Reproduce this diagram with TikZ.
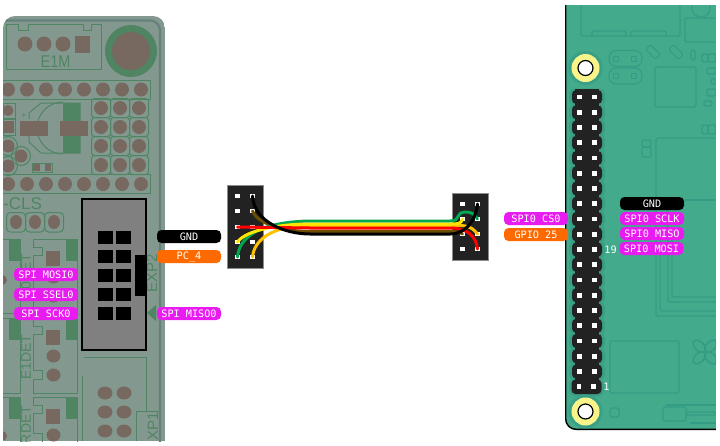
\documentclass[tikz,border=0pt]{standalone}
\usepackage{fontspec}
\newfontfamily\pinfont{DejaVu Sans Mono}
\newfontfamily\silkfont{Liberation Sans}
\usetikzlibrary{shapes.geometric}

\definecolor{ramps}{HTML}{83998F}
\definecolor{rampsedge}{HTML}{66807C}
\definecolor{silk}{HTML}{4F8562}
\definecolor{padbrown}{HTML}{77695F}
\definecolor{pithree}{HTML}{43AB8C}
\definecolor{pitrace}{HTML}{339C84}
\definecolor{pihalo}{HTML}{3A9F86}
\definecolor{ringyellow}{HTML}{F8F48A}
\definecolor{spipink}{HTML}{E81CF0}
\definecolor{gpioorange}{HTML}{FF6A00}
\definecolor{headerblack}{HTML}{222222}
\definecolor{wiregreen}{HTML}{00A651}
\definecolor{wireyellow}{HTML}{FFE600}
\definecolor{wireamber}{HTML}{FFC000}
\definecolor{wirebrown}{HTML}{6B4E00}

\tikzset{
    pinlabel/.style={rounded corners=4.5pt, minimum width=64pt, minimum height=13pt, inner sep=0pt,
        text=white, font=\pinfont\fontsize{10.2}{10}\selectfont},
    spi/.style={pinlabel, fill=spipink},
    gnd/.style={pinlabel, fill=black},
    gpio/.style={pinlabel, fill=gpioorange},
    silkline/.style={draw=silk, line width=1pt},
    silktext/.style={text=silk, font=\silkfont\fontsize{#1}{#1}\selectfont, inner sep=0pt},
    pad/.style={fill=padbrown},
    pcbline/.style={draw=pitrace, line width=1.1pt, rounded corners=1.5pt},
    wire/.style={line width=3pt, line cap=round},
    pinhole/.style={fill=white, minimum size=4.6pt, inner sep=0pt},
    cable/.style={fill=headerblack, draw=black!45, line width=0.8pt},
}

\begin{document}
\begin{tikzpicture}[x=1pt, y=-1pt]
    \useasboundingbox (0,0) rectangle (720,445);

    % left board
    \begin{scope}
        \clip[rounded corners=12pt] (3,16) -- (165,16) -- (165,470) -- (3,470) -- cycle;
        \clip (0,0) rectangle (170,441);
        \fill[ramps] (3,16) rectangle (165,441);
        \draw[rampsedge, line width=2.2pt, rounded corners=10pt] (3,20.5) -- (160,20.5) -- (160,460);

        % E1M
        \draw[silkline] (6,24.5) -- (18,24.5) -- (18,30) -- (28,30) -- (28,24.5)
            -- (83,24.5) -- (83,30) -- (91,30) -- (91,24.5) -- (101,24.5) -- (101,69) -- (6,69) -- cycle;
        \foreach \x in {25,44,63}
            \fill[pad] (\x,44) circle (7.5);
        \fill[pad] (75,36) rectangle (90,53);
        \node[silktext=17, xscale=0.85] (eonem) at (55.5,61.5) {E1M};
        \fill[silk] (131,51) circle (26);
        \fill[pad] (131,51) circle (19);

        % pad rows
        \foreach \y in {89.5,184} {
            \draw[silkline] (0,\y-9.5) rectangle (150,\y+9.5);
            \foreach \x in {8,27,46,65,84,103,122,141}
                \fill[pad] (\x,\y) circle (7);
        }
        \foreach \x in {101,120,139}
            \foreach \y in {108,127,146,165} {
                \draw[silkline, rounded corners=3pt] (\x-9.5,\y-9.5) rectangle (\x+9.5,\y+9.5);
                \fill[pad] (\x,\y) circle (7);
            }

        % battery holder
        \draw[silkline] (29,119) -- (29,113) -- (41,103) -- (80,103) -- (80,153) -- (41,153) -- (29,142) -- (29,136);
        \draw[silkline] (63,154) arc (90:270:26);
        \fill[silk] (63,103) rectangle (80,153);
        \fill[pad] (20,121) rectangle (48,136);
        \fill[pad] (60,121) rectangle (88,136);
        \node[silktext=9] (plus) at (24,115.5) {+};

        % small parts on the edge
        \draw[silkline] (3,103) rectangle (15,118);
        \draw[silkline] (3,119) rectangle (15,135);
        \fill[pad] (8,110.5) circle (5.5);
        \fill[pad] (3,121) rectangle (14,133);
        \foreach \x/\y in {8/146,8/166,21/156} {
            \draw[silkline] (\x,\y) circle (9.5);
            \fill[pad] (\x,\y) circle (6.5);
        }
        \draw[silkline] (32,163) rectangle (52,172);
        \fill[pad] (33,164) rectangle (40,171);
        \fill[pad] (45,164) rectangle (51,171);

        % CLS
        \node[silktext=17, anchor=west] (cls) at (3,204) {-CLS};
        \foreach \x in {16,35,54} {
            \draw[silkline, rounded corners=4pt] (\x-9.5,212.5) rectangle (\x+9.5,232);
            \fill[pad] (\x,222) ellipse (6 and 7);
        }

        % lower parts
        \foreach \y/\h in {239/75,318/76,397/60} {
            \draw[silkline] (3,\y) -- (20,\y) -- (20,\y+\h-1) -- (3,\y+\h-1);
            \draw[silkline] (77,\y) -- (77,\y+\h-1) -- (33,\y+\h-1) -- (33,\y+\h-15) -- (42,\y+\h-15) -- (42,\y+\h-24)
                -- (33,\y+\h-24) -- (33,\y+16) -- (42,\y+16) -- (42,\y+8) -- (33,\y+8) -- (33,\y) -- cycle;
            \fill[silk] (9,\y) rectangle (20,\y+22);
            \fill[silk] (66,\y) rectangle (77,\y+22);
            \fill[pad] (46,\y+12) rectangle (60,\y+27);
            \fill[pad] (53.5,\y+38) ellipse (7 and 6.5);
        }
        \fill[pad] (53.5,375) ellipse (7 and 6.5);
        \fill[pad] (53.5,296) ellipse (7 and 6.5);
        \fill[pad] (2,280) circle (5);
        \fill[pad] (2,436) circle (5);
        \node[silktext=14, rotate=90] (eonedet) at (26,357) {E1DET};
        \node[silktext=14, rotate=90] (eodet) at (26,276) {E0DET};
        \node[silktext=14, rotate=90] (rdet) at (26,425) {RDET};

        % XP1
        \draw[silkline] (84,357) -- (146,357) -- (146,411);
        \draw[silkline] (82,376) -- (82,441);
        \draw[silkline] (136,441) -- (136,411) -- (159,411);
        \foreach \x in {105,124}
            \foreach \y in {393,412,431}
                \fill[pad] (\x,\y) ellipse (7.5 and 6.5);
        \node[silktext=15, rotate=90] (xpone) at (153,426) {XP1};
        \node[silktext=15, rotate=90] (exptwo) at (152,273) {EXP2};
        \fill[silk] (147,313) -- (156,305) -- (156,321) -- cycle;

        % EXP2 socket
        \draw[fill=black!50, line width=2pt] (82,199) rectangle (146,350);
        \foreach \y in {231,250,269,288,307} {
            \fill (98,\y) rectangle (113,\y+13);
            \fill (116,\y) rectangle (131,\y+13);
        }
        \fill (135,255) rectangle (146,296);
    \end{scope}

    % right board
    \begin{scope}
        \clip (565,5) -- (565,419) arc (180:90:11) -- (716,430) -- (716,5) -- cycle;
        \fill[pithree] (565,5) rectangle (716,430);
        \draw[pcbline] (581,5) -- (581,36) -- (680,36) -- (680,5);
        \draw[pcbline] (592,36) -- (592,31) -- (626,31) -- (626,36);
        \draw[pcbline] (631,36) -- (631,31) -- (666,31) -- (666,36);
        \draw[pcbline] (716,18) -- (685,18) -- (685,42) -- (716,42);
        \draw[pitrace, line width=1.1pt] (701,8) circle (9);
        \foreach \y in {58.5,76}
            \draw[pitrace, line width=1.1pt, rounded corners=7pt] (609,\y-8) rectangle (642,\y+8);
        \foreach \x in {615.5,634}
            \foreach \y in {58.5,76}
                \draw[pitrace, line width=1pt] (\x-2.5,\y-2.5) rectangle (\x+2.5,\y+2.5);
        \foreach \x in {653,676}
            \draw[pcbline, rotate around={45:(\x,52)}] (\x-3.5,45) rectangle (\x+3.5,59);
        \draw[pcbline] (691,50) rectangle (695,60);
        \draw[pcbline] (702,54) rectangle (708,62);
        \draw[pcbline] (708,54) rectangle (716,62);
        \draw[pcbline] (707,68) rectangle (716,74);
        \draw[pcbline] (711,79) rectangle (716,84);
        \draw[pcbline] (707,89) rectangle (716,96);
        \draw[pcbline] (704,101) rectangle (712,106);
        \draw[pcbline] (655,67) rectangle (696,107);
        \draw[pcbline] (702,125) rectangle (708,134);
        \draw[pcbline] (708,125) rectangle (716,134);
        \draw[pcbline] (642,140) rectangle (651,147);
        \draw[pcbline] (642,147) rectangle (651,157);
        \draw[pcbline] (716,138) -- (656,138) -- (656,316) -- (716,316);
        \draw[pcbline] (716,200) -- (664,200);
        \draw[pcbline] (660,240) -- (660,311) -- (716,311);
        \draw[pcbline] (668,200) -- (668,302) -- (716,302);
        \draw[pcbline] (672,240) -- (672,297) -- (716,297);
        \draw[pcbline] (610,341) rectangle (679,393);
        \draw[pcbline] (610,408) rectangle (619,417);
        \draw[pcbline] (663,407) rectangle (686,421);
        \draw[pcbline] (686,412) rectangle (716,415);
        \draw[pcbline] (666,405) -- (716,405);
        \draw[pcbline] (690,423) -- (716,423);
        % logo
        \foreach \a in {45,135,225,315}
            \draw[pitrace, line width=1.5pt, rotate around={\a:(705,352)}] (705,344) ellipse (4.5 and 7.5);
        \draw[black, line width=1.8pt] (565.5,5) -- (565.5,419) arc (180:90:10.5) -- (716,429.5);
    \end{scope}

    % gpio header
    \foreach \y in {97,112.25,...,383} {
        \fill[pihalo, rounded corners=5pt] (569,\y-8.5) rectangle (605,\y+8.5);
    }
    \foreach \y in {97,112.25,...,383} {
        \fill[headerblack, rounded corners=4pt] (572,\y-6.9) rectangle (602,\y+6.9);
        \fill[headerblack] (575,\y-8) rectangle (599,\y+8);
    }
    \fill[pihalo, rounded corners=5pt] (569,379) rectangle (604,396);
    \fill[headerblack, rounded corners=4pt] (571.5,379.5) rectangle (601.5,394);
    \fill[headerblack] (575,376) rectangle (599,381);
    \foreach \y in {97,112.25,...,383} {
        \node[pinhole] (pia\y) at (579.7,\y) {};
        \node[pinhole] (pib\y) at (594.3,\y) {};
    }
    \node[pinhole] (piaone) at (579,386.75) {};
    \node[pinhole] (pibone) at (593.7,386.75) {};

    \foreach \y in {68,411.5} {
        \fill[pihalo] (585.5,\y) circle (17);
        \fill[ringyellow] (585.5,\y) circle (14);
        \draw[black, fill=white, line width=1.2pt] (585.5,\y) circle (7.5);
    }

    % headers on the cable
    \draw[cable] (227.5,185.5) rectangle (263,268);
    \draw[cable] (452.5,193.5) rectangle (488,260);
    \foreach \i/\y in {1/196,2/211,3/227,4/242,5/257} {
        \node[pinhole] (la\i) at (237.5,\y) {};
        \node[pinhole] (lb\i) at (252.5,\y) {};
    }
    \foreach \i/\y in {1/204,2/219,3/234,4/249} {
        \node[pinhole] (ra\i) at (462.5,\y) {};
        \node[pinhole] (rb\i) at (477.5,\y) {};
    }

    % wires
    \coordinate (gl) at (310,221);
    \coordinate (gr) at (450,221);
    \coordinate (yl) at (310,224);
    \coordinate (yr) at (450,224);
    \coordinate (al) at (310,225.5);
    \coordinate (ar) at (450,225.5);
    \coordinate (rl) at (310,228);
    \coordinate (rr) at (450,228);
    \coordinate (bl) at (310,231.5);
    \coordinate (br) at (450,231.5);
    \coordinate (kl) at (310,234);
    \coordinate (kr) at (450,234);

    \draw[wire, wirebrown] (lb2.center) .. controls (256,222) and (280,231.5) .. (bl) -- (br) .. controls (457,231.5) and (462,233) .. (ra3.center);
    \draw[wire, wiregreen] (la5.center) .. controls (239,238) and (258,222) .. (gl) -- (gr) .. controls (462,221) and (454,212) .. (466,212) .. controls (471,212) and (475,214) .. (rb2.center);
    \draw[wire, wireamber] (lb5.center) .. controls (254,240) and (272,225.5) .. (al) -- (ar) .. controls (462,225.5) and (470,224) .. (rb3.center);
    \draw[wire, wireyellow] (la4.center) .. controls (246,230) and (280,224) .. (yl) -- (yr) .. controls (458,224) and (461,224) .. (ra2.center);
    \draw[wire, red] (la3.center) -- (rl) -- (rr) .. controls (466,228) and (476,235) .. (rb4.center);
    \draw[wire, black] (lb1.center) .. controls (254,222) and (285,234) .. (kl) -- (kr) .. controls (466,234) and (476,220) .. (rb1.center);

    % labels
    \node[gnd] (gndl) at (189,236.5) {GND};
    \node[gpio] (pcfour) at (189,256.5) {PC\_4};
    \node[spi] (mosil) at (46,274.5) {SPI MOSI0};
    \node[spi] (ssel) at (46,294.5) {SPI SSEL0};
    \node[spi] (sckl) at (46,313.5) {SPI SCK0};
    \node[spi] (misol) at (189,313.5) {SPI MISO0};

    \node[spi] (csr) at (536,218.5) {SPI0 CS0};
    \node[gpio] (gpiotf) at (536,234.5) {GPIO 25};
    \node[gnd] (gndr) at (652,203.5) {GND};
    \node[spi] (sclkr) at (652,218.5) {SPI0 SCLK};
    \node[spi] (misor) at (652,233.5) {SPI0 MISO};
    \node[spi] (mosir) at (651.5,248.5) {SPI0 MOSI};
    \node[text=white, inner sep=0pt, font=\pinfont\fontsize{10.2}{10}\selectfont] (pnineteen) at (610.5,249.5) {19};
    \node[text=white, inner sep=0pt, font=\pinfont\fontsize{10.2}{10}\selectfont] (pone) at (606.5,386.5) {1};
\end{tikzpicture}
\end{document}
